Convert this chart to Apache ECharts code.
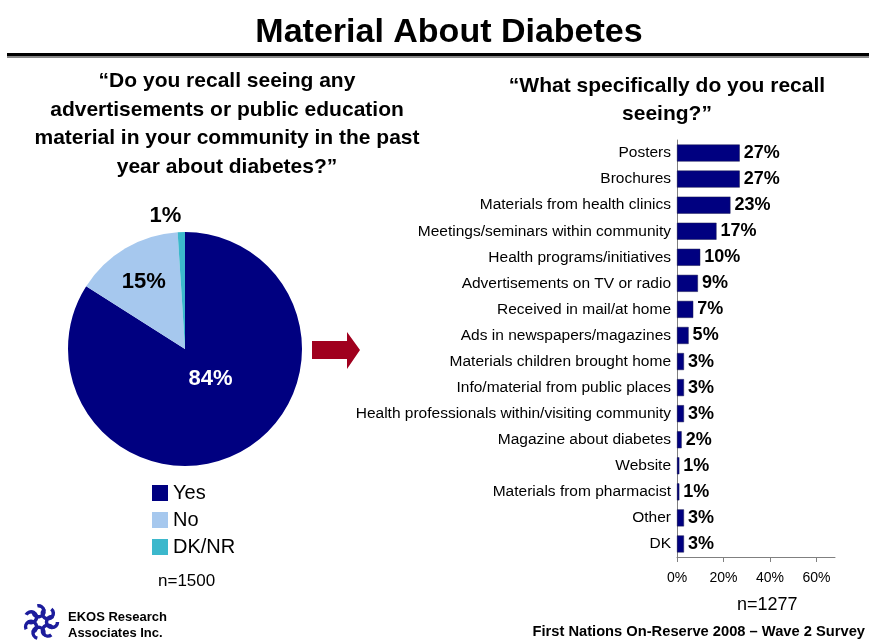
<!DOCTYPE html>
<html>
<head>
<meta charset="utf-8">
<script src="https://cdn.jsdelivr.net/npm/echarts@6/dist/echarts.min.js"></script>
<style>
  html, body { margin: 0; padding: 0; background: #fff; }
  #chart { width: 869px; height: 640px; }
</style>
</head>
<body>
<div id="chart"></div>
<script>
// Recall question (pie)
const recallNames = ['Yes', 'No', 'DK/NR'];
const recallValues = [84, 15, 1];
const recallColors = ['#000080', '#a6c8ee', '#3cb8cc'];

// What respondents recall seeing (bars)
const itemNames = [
  'Posters', 'Brochures', 'Materials from health clinics',
  'Meetings/seminars within community', 'Health programs/initiatives',
  'Advertisements on TV or radio', 'Received in mail/at home',
  'Ads in newspapers/magazines', 'Materials children brought home',
  'Info/material from public places',
  'Health professionals within/visiting community',
  'Magazine about diabetes', 'Website', 'Materials from pharmacist',
  'Other', 'DK'
];
const itemValues = [27, 27, 23, 17, 10, 9, 7, 5, 3, 3, 3, 2, 1, 1, 3, 3];
const axisTicks = [0, 20, 40, 60];

const FONT = '"Liberation Sans", Arial, sans-serif';
const NARROW = '"Liberation Sans Narrow", "Arial Narrow", "Liberation Sans", sans-serif';
const chart = echarts.init(document.getElementById('chart'), null, { renderer: 'canvas' });

// label placement for the pie slices
const pieLabelCfg = [
  { color: '#fff', position: 'inside', offset: [-4, -24] },
  { color: '#000', position: 'inside', offset: [-10, -14] },
  { color: '#000', position: 'outside', offset: [0, -12] }
];

const pieData = recallNames.map((n, i) => ({
  name: n,
  value: recallValues[i],
  itemStyle: { color: recallColors[i] },
  label: {
    show: true,
    position: pieLabelCfg[i].position,
    color: pieLabelCfg[i].color,
    offset: pieLabelCfg[i].offset,
    distanceToLabelLine: 0
  },
  labelLine: { show: false, length: 4, length2: 0 }
}));

// logo: ring of small swirls
const logo = [];
for (let k = 0; k < 7; k++) {
  const a = k / 7 * Math.PI * 2;
  logo.push({
    type: 'arc',
    shape: { cx: 41 + 11 * Math.cos(a), cy: 622 + 11 * Math.sin(a), r: 5.5, startAngle: a, endAngle: a + Math.PI * 1.6 },
    style: { stroke: '#1c1c9c', lineWidth: 3.5, fill: null }
  });
}

chart.setOption({
  animation: false,
  textStyle: { fontFamily: FONT },
  title: [
    { text: 'Material About Diabetes', left: 444, top: 11, textAlign: 'center',
      textStyle: { fontSize: 34, fontWeight: 'bold', color: '#000', fontFamily: NARROW } },
    { text: '\u201cDo you recall seeing any\nadvertisements or public education\nmaterial in your community in the past\nyear about diabetes?\u201d',
      left: 222, top: 62, textAlign: 'center',
      textStyle: { fontSize: 21, fontWeight: 'bold', color: '#000', lineHeight: 28.5, fontFamily: FONT } },
    { text: '\u201cWhat specifically do you recall\nseeing?\u201d',
      left: 662, top: 67, textAlign: 'center',
      textStyle: { fontSize: 21, fontWeight: 'bold', color: '#000', lineHeight: 28, fontFamily: FONT } }
  ],
  legend: {
    data: recallNames,
    orient: 'vertical',
    left: 147, top: 478,
    itemWidth: 16, itemHeight: 16, itemGap: 7, icon: 'rect',
    textStyle: { fontSize: 20, color: '#000', fontFamily: FONT }
  },
  grid: { left: 677, right: 34, top: 140, bottom: 83, containLabel: false },
  xAxis: {
    type: 'value', min: 0, max: 68, interval: 20,
    axisLine: { show: true, lineStyle: { color: '#808080', width: 1 } },
    axisTick: { show: true, length: 5, lineStyle: { color: '#808080' } },
    splitLine: { show: false },
    axisLabel: { formatter: v => axisTicks.includes(v) ? v + '%' : '', fontSize: 14, color: '#000', margin: 14, showMaxLabel: false }
  },
  yAxis: {
    type: 'category', data: itemNames, inverse: true,
    axisLine: { show: true, lineStyle: { color: '#808080', width: 1 } },
    axisTick: { show: false },
    axisLabel: { fontSize: 15.5, color: '#000', margin: 6 }
  },
  series: [
    {
      type: 'pie', center: [185, 349], radius: [0, 117],
      startAngle: 90, clockwise: true,
      data: pieData,
      label: { fontSize: 22, fontWeight: 'bold', formatter: '{c}%' },
      emphasis: { disabled: true }
    },
    {
      type: 'bar', data: itemValues, barWidth: 17,
      itemStyle: { color: '#000080', borderColor: '#1a1a50', borderWidth: 0.5 },
      label: { show: true, position: 'right', distance: 4, formatter: '{c}%',
               fontSize: 18, fontWeight: 'bold', color: '#000' }
    }
  ],
  graphic: [
    { type: 'rect', shape: { x: 7, y: 56, width: 862, height: 2 }, style: { fill: '#888' } },
    { type: 'rect', shape: { x: 7, y: 53, width: 862, height: 3 }, style: { fill: '#000' } },
    { type: 'polygon', shape: { points: [[312, 341], [347, 341], [347, 332], [360, 350], [347, 369], [347, 359], [312, 359]] },
      style: { fill: '#a0001e' } },
    { type: 'text', left: 158, top: 573, style: { text: 'n=1500', fill: '#000', font: '17px ' + FONT } },
    { type: 'text', left: 737, top: 596, style: { text: 'n=1277', fill: '#000', font: '18px ' + FONT } },
    { type: 'text', right: 4, top: 624, style: { text: 'First Nations On-Reserve 2008 \u2013 Wave 2 Survey', fill: '#000', font: 'bold 14.7px ' + FONT } },
    { type: 'text', left: 68, top: 609, style: { text: 'EKOS Research\nAssociates Inc.', fill: '#000', font: 'bold 13px ' + FONT, lineHeight: 16 } },
    ...logo
  ]
});
</script>
</body>
</html>
